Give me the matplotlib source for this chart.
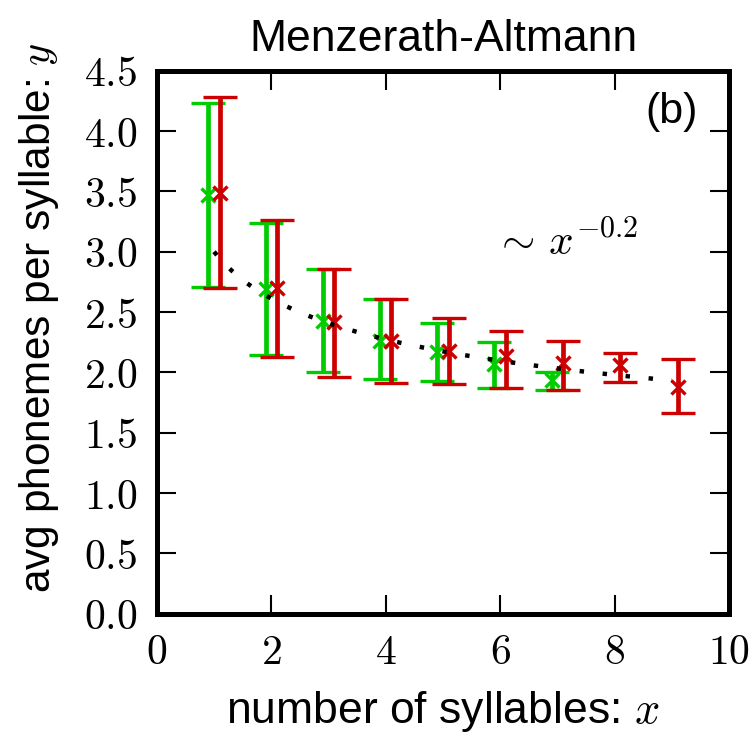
import matplotlib
matplotlib.use("Agg")
import matplotlib.pyplot as plt
from matplotlib.ticker import FuncFormatter
import numpy as np

plt.rcParams['font.family'] = ['Liberation Sans', 'DejaVu Sans']
plt.rcParams['mathtext.fontset'] = 'cm'

# data: green series
green_x = [1, 2, 3, 4, 5, 6, 7]
green_y = [3.47, 2.69, 2.43, 2.26, 2.165, 2.07, 1.94]
green_hi = [4.23, 3.24, 2.86, 2.605, 2.41, 2.254, 2.004]
green_lo = [2.71, 2.143, 2.00, 1.949, 1.927, 1.869, 1.855]

# data: red series
red_x = [1, 2, 3, 4, 5, 6, 7, 8, 9]
red_y = [3.49, 2.70, 2.414, 2.26, 2.18, 2.14, 2.08, 2.06, 1.883]
red_hi = [4.28, 3.26, 2.854, 2.608, 2.447, 2.34, 2.262, 2.162, 2.11]
red_lo = [2.697, 2.124, 1.966, 1.916, 1.908, 1.871, 1.855, 1.92, 1.661]

# fit line ~ a * x^b
fit_a = 3.0
fit_b = -0.2
fit_x0, fit_x1 = 1, 9

x_ticks = [0, 2, 4, 6, 8, 10]
y_ticks = [0.0, 0.5, 1.0, 1.5, 2.0, 2.5, 3.0, 3.5, 4.0, 4.5]

GREEN = '#00cc00'
RED = '#cc0000'
offset = 0.1

fig = plt.figure(figsize=(7.54, 7.36), dpi=100)
ax = fig.add_axes([0.208, 0.166, 0.759, 0.738])

gx = np.array(green_x) - offset
gy = np.array(green_y)
ax.errorbar(gx, gy, yerr=[gy - np.array(green_lo), np.array(green_hi) - gy],
            fmt='x', color=GREEN, ecolor=GREEN, elinewidth=3.4, capsize=12,
            capthick=2.2, markersize=10, markeredgewidth=2.4, zorder=3)
rx = np.array(red_x) + offset
ry = np.array(red_y)
ax.errorbar(rx, ry, yerr=[ry - np.array(red_lo), np.array(red_hi) - ry],
            fmt='x', color=RED, ecolor=RED, elinewidth=3.4, capsize=12,
            capthick=2.2, markersize=10, markeredgewidth=2.4, zorder=4)

fx = np.linspace(fit_x0, fit_x1, 200)
ax.plot(fx, fit_a * fx ** fit_b, color='black', linewidth=3.2,
        linestyle=(0, (1, 4.2)), zorder=5)

ax.set_xlim(0, 10)
ax.set_ylim(0, 4.5)
ax.set_xticks(x_ticks)
ax.set_yticks(y_ticks)
ax.xaxis.set_major_formatter(FuncFormatter(lambda v, p: f"${v:.0f}$"))
ax.yaxis.set_major_formatter(FuncFormatter(lambda v, p: f"${v:.1f}$"))
ax.tick_params(axis='both', which='major', direction='in', length=14, width=1.5,
               top=True, right=True, labelsize=30)
ax.tick_params(axis='x', pad=14)
ax.tick_params(axis='y', pad=14)
for s in ax.spines.values():
    s.set_linewidth(3.6)

ax.set_title('Menzerath-Altmann', fontsize=32, pad=14)
ax.set_xlabel('number of syllables: $x$', fontsize=32, labelpad=11)
ax.set_ylabel('avg phonemes per syllable: $y$', fontsize=30.5)
ax.yaxis.set_label_coords(-0.168, 0.545)

ax.text(0.945, 0.96, '(b)', transform=ax.transAxes, ha='right', va='top', fontsize=31)
ax.text(5.9, 2.97, r'$\sim\, x^{-0.2}$', fontsize=31, ha='left', va='baseline')

fig.savefig('out.png', dpi=100)
